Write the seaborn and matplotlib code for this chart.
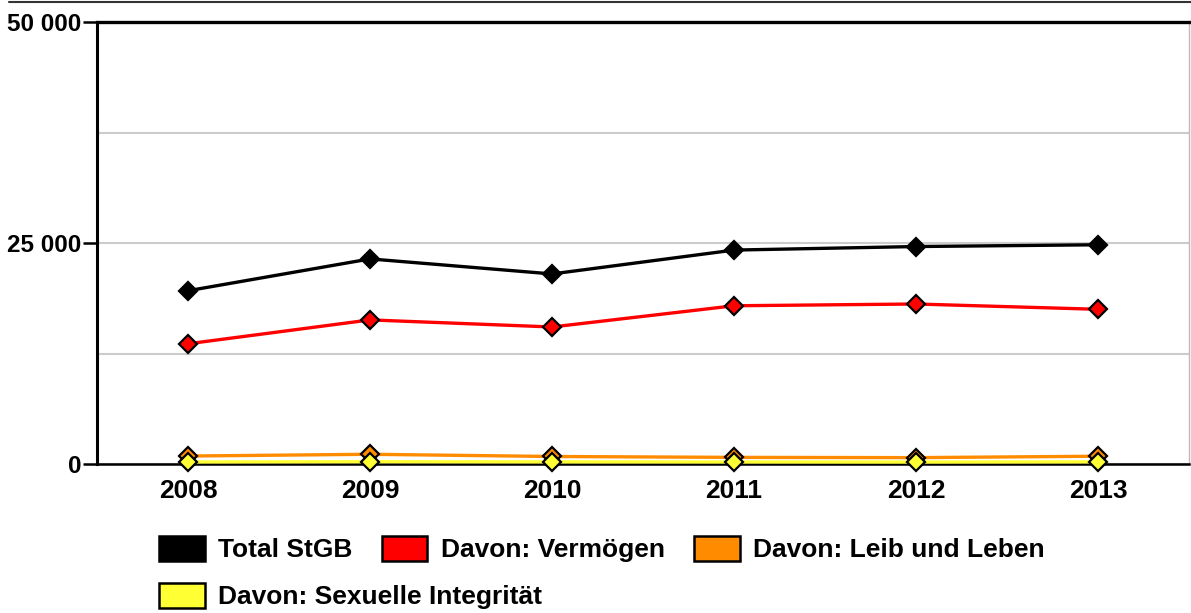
import matplotlib
matplotlib.use("Agg")
import matplotlib.pyplot as plt
from matplotlib.patches import Patch
from matplotlib.lines import Line2D
from matplotlib.ticker import FuncFormatter, MultipleLocator
import pandas as pd
import seaborn as sns

# Jahre und Werte (Straftaten nach StGB)
years = ["2008", "2009", "2010", "2011", "2012", "2013"]
total_stgb = [19600, 23200, 21500, 24200, 24600, 24800]
vermoegen = [13600, 16300, 15500, 17900, 18100, 17500]
leib_leben = [900, 1100, 850, 750, 720, 880]
sexuelle = [230, 260, 240, 230, 220, 240]

series_names = ["Total StGB", "Davon: Vermögen", "Davon: Leib und Leben",
                "Davon: Sexuelle Integrität"]
series_values = [total_stgb, vermoegen, leib_leben, sexuelle]
colors = ["#000000", "#ff0000", "#ff8c00", "#ffff33"]

rows = []
for name, vals in zip(series_names, series_values):
    for i, v in enumerate(vals):
        rows.append({"pos": i, "value": v, "series": name})
df = pd.DataFrame(rows)

sns.set_theme(style="white")
plt.rcParams["font.family"] = ["Liberation Sans", "DejaVu Sans"]
plt.rcParams["font.weight"] = "bold"
plt.rcParams["text.color"] = "black"

fig = plt.figure(figsize=(11.91, 6.13), dpi=100)
ax = fig.add_axes([97 / 1191, 1 - 464 / 613, (1189 - 97) / 1191, (464 - 22) / 613])

sns.lineplot(data=df, x="pos", y="value", hue="series", hue_order=series_names,
             palette=colors, marker="D", markersize=9.5, markeredgecolor="black",
             markeredgewidth=1.6, linewidth=2.4, legend=False, ax=ax,
             clip_on=False, zorder=5)

ax.set_xlim(-0.5, len(years) - 0.5)
ax.set_ylim(0, 50000)
ax.set_xticks(range(len(years)))
ax.set_xticklabels(years)
ax.set_xlabel("")
ax.set_ylabel("")

ax.yaxis.set_major_locator(MultipleLocator(25000))
ax.yaxis.set_minor_locator(MultipleLocator(12500))
ax.yaxis.set_major_formatter(FuncFormatter(lambda v, p: f"{int(v):,}".replace(",", " ")))
ax.grid(True, axis="y", which="both", color="#cccccc", linewidth=1.5)
ax.set_axisbelow(True)

ax.tick_params(axis="y", which="major", left=True, length=10, width=1.8,
               color="black", pad=1.5, labelsize=17.5, labelcolor="black")
ax.tick_params(axis="y", which="minor", left=False)
ax.tick_params(axis="x", bottom=False, length=0, pad=11, labelsize=19,
               labelcolor="black")
for lbl in ax.get_xticklabels() + ax.get_yticklabels():
    lbl.set_fontweight("bold")

for side in ["left", "bottom", "top"]:
    ax.spines[side].set_color("black")
ax.spines["left"].set_linewidth(2.2)
ax.spines["bottom"].set_linewidth(1.8)
ax.spines["top"].set_linewidth(2.4)
ax.spines["right"].set_color("#bbbbbb")
ax.spines["right"].set_linewidth(1.0)

# Trennlinie am oberen Bildrand
fig.add_artist(Line2D([9 / 1191, 1.0], [1 - 1.5 / 613, 1 - 1.5 / 613],
                      color="#333333", linewidth=1.5, transform=fig.transFigure))

handles = [Patch(facecolor=c, edgecolor="black", linewidth=1.8) for c in colors]
legend_kw = dict(loc="center left", frameon=False, borderpad=0, borderaxespad=0,
                 handlelength=1.74, handleheight=1.1, handletextpad=0.5,
                 columnspacing=1.1, prop={"size": 19, "weight": "bold"},
                 labelcolor="black")
fig.legend(handles[:3], series_names[:3], ncol=3,
           bbox_to_anchor=(159 / 1191, 1 - 549 / 613), **legend_kw)
fig.legend(handles[3:], series_names[3:], ncol=1,
           bbox_to_anchor=(159 / 1191, 1 - 596 / 613), **legend_kw)

fig.savefig("out.png", dpi=100)
